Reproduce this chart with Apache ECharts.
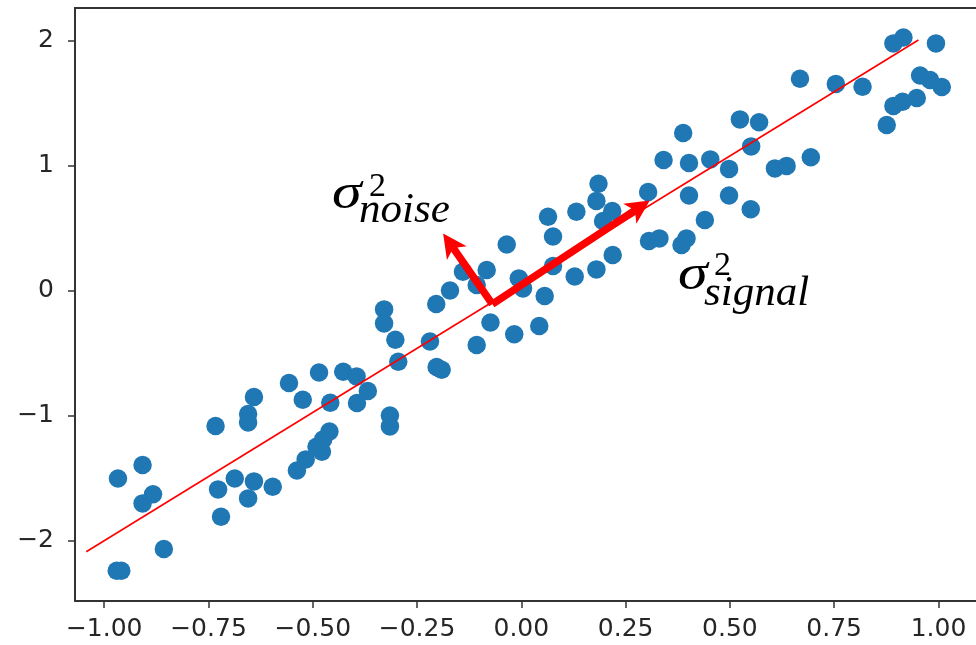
<!DOCTYPE html>
<html><head><meta charset="utf-8">
<script src="https://cdn.jsdelivr.net/npm/echarts@6/dist/echarts.min.js"></script>
<style>html,body{margin:0;padding:0;background:#fff}#c{width:976px;height:645px}</style>
</head><body><div id="c"></div>
<script>
// scatter samples
const xs = [-0.967,-0.908,-0.908,-0.883,-0.857,-0.970,-0.959,-0.733,-0.727,-0.720,
  -0.687,-0.655,-0.655,-0.641,-0.641,-0.655,-0.596,-0.557,-0.524,-0.485,
  -0.538,-0.517,-0.491,-0.478,-0.475,-0.460,-0.458,-0.427,-0.395,-0.368,
  -0.394,-0.329,-0.329,-0.302,-0.295,-0.315,-0.315,-0.204,-0.171,-0.219,
  -0.203,-0.191,-0.107,-0.074,-0.017,0.043,0.056,-0.140,-0.083,-0.107,
  -0.035,-0.006,0.004,0.076,0.128,0.180,0.219,0.064,0.076,0.132,
  0.180,0.185,0.196,0.218,0.304,0.341,0.388,0.402,0.453,0.498,
  0.402,0.498,0.550,0.440,0.306,0.331,0.384,0.396,0.524,0.570,
  0.551,0.608,0.636,0.694,0.668,0.754,0.818,0.892,0.916,0.994,
  0.956,0.980,1.008,0.892,0.914,0.948,0.876];
const ys = [-1.502,-1.394,-1.701,-1.628,-2.066,-2.240,-2.240,-1.082,-1.589,-1.808,
  -1.502,-0.986,-1.054,-0.850,-1.525,-1.661,-1.568,-0.738,-0.872,-0.654,
  -1.438,-1.349,-1.248,-1.288,-1.189,-1.126,-0.896,-0.648,-0.685,-0.802,
  -0.898,-0.149,-0.261,-0.392,-0.568,-0.998,-1.085,-0.106,0.002,-0.406,
  -0.610,-0.632,-0.434,-0.254,-0.348,-0.282,-0.042,0.152,0.166,0.046,
  0.370,0.099,0.019,0.198,0.114,0.171,0.286,0.592,0.434,0.632,
  0.719,0.856,0.558,0.638,0.790,1.046,1.262,1.022,1.051,0.975,
  0.762,0.762,0.652,0.566,0.398,0.419,0.366,0.419,1.371,1.348,
  1.155,0.979,0.999,1.068,1.696,1.655,1.632,1.979,2.026,1.979,
  1.722,1.686,1.630,1.479,1.512,1.542,1.326];
// fitted line end points
const fitX = [-1.043, 0.952];
const fitY = [-2.088, 2.006];
// arrows (start, tips)
const arrowStart = [-0.0695, -0.107];
const signalTip = [0.308, 0.722];
const noiseTip = [-0.1875, 0.459];
// ticks
const xTicks = [-1, -0.75, -0.5, -0.25, 0, 0.25, 0.5, 0.75, 1];
const yTicks = [-2, -1, 0, 1, 2];

const minus = '\u2212';
const fmtX = v => (v < 0 ? minus : '') + Math.abs(v).toFixed(2);
const fmtY = v => (v < 0 ? minus : '') + Math.abs(Math.round(v));

const chart = echarts.init(document.getElementById('c'), null, {renderer: 'canvas'});

function arrowItem(params, api) {
  const p0 = api.coord([api.value(0), api.value(1)]);
  const p1 = api.coord([api.value(2), api.value(3)]);
  const dx = p1[0] - p0[0], dy = p1[1] - p0[1];
  const len = Math.hypot(dx, dy);
  const d = [dx / len, dy / len];
  const n = [-d[1], d[0]];
  const S = 7.5, L = 24, W = 24, notch = 0.82;
  const sEnd = [p1[0] - d[0] * L * notch, p1[1] - d[1] * L * notch];
  const neck = [p1[0] - d[0] * L, p1[1] - d[1] * L];
  const pts = [
    [p0[0] + n[0] * S / 2, p0[1] + n[1] * S / 2],
    [sEnd[0] + n[0] * S / 2, sEnd[1] + n[1] * S / 2],
    [neck[0] + n[0] * W / 2, neck[1] + n[1] * W / 2],
    p1,
    [neck[0] - n[0] * W / 2, neck[1] - n[1] * W / 2],
    [sEnd[0] - n[0] * S / 2, sEnd[1] - n[1] * S / 2],
    [p0[0] - n[0] * S / 2, p0[1] - n[1] * S / 2]
  ];
  return {type: 'polygon', shape: {points: pts}, style: {fill: '#ff0000'}};
}

const sigFont = 'italic 50px "Liberation Serif"';
const supFont = '34px "Liberation Serif"';
const subFont = 'italic 43px "Liberation Serif"';
const spine = {color: '#333', width: 2};

chart.setOption({
  backgroundColor: '#ffffff',
  animation: false,
  grid: {left: 75, top: 8, right: 0, bottom: 44, show: false, outerBoundsMode: 'none', containLabel: false},
  xAxis: [{
    type: 'value', min: -1.07, max: 1.09, position: 'bottom',
    splitLine: {show: false},
    axisLine: {show: true, onZero: false, lineStyle: spine},
    axisTick: {show: true, length: 7, inside: false, customValues: xTicks, lineStyle: {color: '#333', width: 1.5}},
    axisLabel: {show: true, customValues: xTicks, formatter: fmtX, margin: 16,
      fontFamily: 'DejaVu Sans', fontSize: 25, color: '#262626'}
  }, {
    type: 'value', min: -1.07, max: 1.09, position: 'top',
    splitLine: {show: false},
    axisLine: {show: true, onZero: false, lineStyle: spine},
    axisTick: {show: false}, axisLabel: {show: false}
  }],
  yAxis: {
    type: 'value', min: -2.482, max: 2.262, position: 'left',
    splitLine: {show: false},
    axisLine: {show: true, onZero: false, lineStyle: spine},
    axisTick: {show: true, length: 7, inside: false, customValues: yTicks, lineStyle: {color: '#333', width: 1.5}},
    axisLabel: {show: true, customValues: yTicks, formatter: fmtY, margin: 21,
      fontFamily: 'DejaVu Sans', fontSize: 25, color: '#262626'}
  },
  series: [
    {
      type: 'scatter', symbol: 'circle', symbolSize: 18.5, z: 2,
      itemStyle: {color: '#1f77b4', opacity: 1},
      data: xs.map((x, i) => [x, ys[i]])
    },
    {
      type: 'line', showSymbol: false, symbol: 'none', z: 3,
      lineStyle: {color: '#ff0000', width: 1.6},
      data: fitX.map((x, i) => [x, fitY[i]])
    },
    {
      type: 'custom', z: 4, renderItem: arrowItem,
      data: [
        [arrowStart[0], arrowStart[1], signalTip[0], signalTip[1]],
        [arrowStart[0], arrowStart[1], noiseTip[0], noiseTip[1]]
      ]
    }
  ],
  graphic: [
    {type: 'text', x: 332, y: 195, scaleX: 1.2, style: {text: 'σ', font: sigFont, fill: '#000', verticalAlign: 'middle', align: 'left'}, z: 10},
    {type: 'text', x: 369, y: 187.5, style: {text: '2', font: supFont, fill: '#000', verticalAlign: 'middle', align: 'left'}, z: 10},
    {type: 'text', x: 359, y: 211, style: {text: 'noise', font: subFont, fill: '#000', verticalAlign: 'middle', align: 'left'}, z: 10},
    {type: 'text', x: 678, y: 276, scaleX: 1.2, style: {text: 'σ', font: sigFont, fill: '#000', verticalAlign: 'middle', align: 'left'}, z: 10},
    {type: 'text', x: 714, y: 266.5, style: {text: '2', font: supFont, fill: '#000', verticalAlign: 'middle', align: 'left'}, z: 10},
    {type: 'text', x: 704, y: 294, style: {text: 'signal', font: subFont, fill: '#000', verticalAlign: 'middle', align: 'left'}, z: 10}
  ]
});
</script>
</body></html>
